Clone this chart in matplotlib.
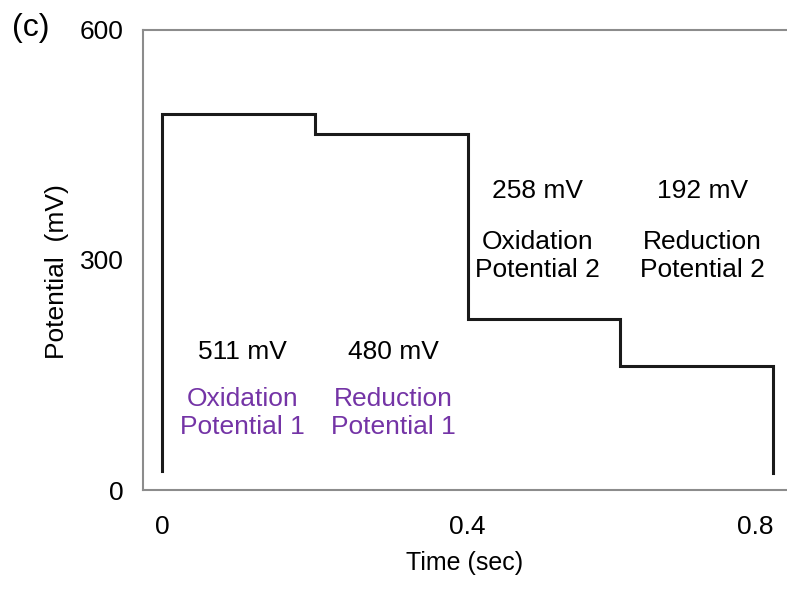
import matplotlib.pyplot as plt

plt.rcParams["font.family"] = ["Liberation Sans", "DejaVu Sans"]

# step waveform
time_s = [0.0, 0.0, 0.2, 0.2, 0.4, 0.4, 0.6, 0.6, 0.8, 0.8]
potential_mv = [25, 490, 490, 465, 465, 223, 223, 162, 162, 22]

x_ticks = [0, 0.4, 0.8]
x_tick_labels = ["0", "0.4", "0.8"]
y_ticks = [0, 300, 600]

value_labels = ["511 mV", "480 mV", "258 mV", "192 mV"]
step_names = ["Oxidation\nPotential 1", "Reduction\nPotential 1",
              "Oxidation\nPotential 2", "Reduction\nPotential 2"]
label_x = [0.105, 0.303, 0.491, 0.707]
value_y = [180, 180, 390, 390]
name_y = [100, 100, 305, 305]
name_colors = ["#7434a6", "#7434a6", "black", "black"]

fig = plt.figure(figsize=(7.87, 5.89), dpi=100)
ax = fig.add_axes([143 / 787, 1 - 490 / 589, 644 / 787, 460 / 589])

ax.plot(time_s, potential_mv, color="#1a1a1a", lw=2.2, solid_joinstyle="miter")

ax.set_xlim(-0.025, 0.818)
ax.set_ylim(0, 600)
ax.set_xticks(x_ticks, x_tick_labels)
ax.set_yticks(y_ticks)
ax.tick_params(length=0, labelsize=19, pad=14)
ax.tick_params(axis="x", pad=18)
# last label sits inside the canvas, as in the reference
ax.get_xticklabels()[-1].set_ha("right")

ax.spines["right"].set_visible(False)
for side in ["left", "bottom", "top"]:
    ax.spines[side].set_color("#8c8c8c")
    ax.spines[side].set_linewidth(1.5)

ax.set_xlabel("Time (sec)", fontsize=18)
ax.xaxis.set_label_coords((465 - 143) / 644, -(563 - 490) / 460)
ax.xaxis.label.set_va("center")
ax.set_ylabel("Potential  (mV)", fontsize=19)
ax.yaxis.set_label_coords((57 - 143) / 644, (490 - 272) / 460)
ax.yaxis.label.set_va("center")

for x, vy, ny, val, name, c in zip(label_x, value_y, name_y, value_labels,
                                    step_names, name_colors):
    ax.text(x, vy, val, ha="center", va="center", fontsize=19, color="black")
    ax.text(x, ny, name, ha="center", va="center", fontsize=19, color=c,
            linespacing=1.2)

fig.text(12 / 787, 1 - 28 / 589, "(c)", fontsize=23, va="center", ha="left")

fig.savefig("out.png", dpi=100)
